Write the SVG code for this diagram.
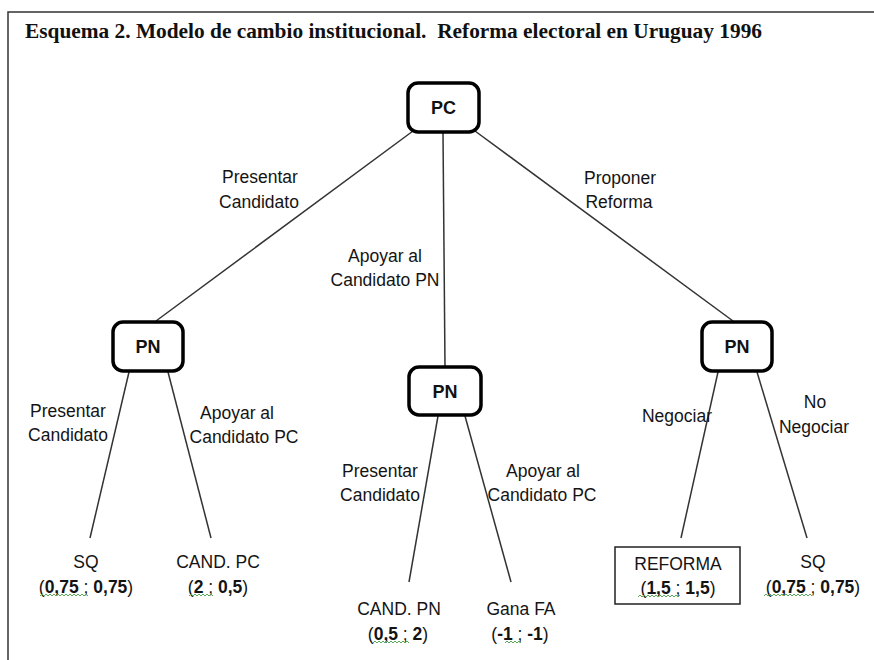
<svg xmlns="http://www.w3.org/2000/svg" width="874" height="660" viewBox="0 0 874 660">
<style>
.t{font-family:"Liberation Sans",Arial,sans-serif;font-size:17.5px;fill:#141414;text-anchor:middle}
.b{font-weight:bold}
.nb{fill:#fff;stroke:#000;stroke-width:3.5}
.nt{font-family:"Liberation Sans",Arial,sans-serif;font-size:18px;font-weight:bold;fill:#111;text-anchor:middle}
.e{stroke:#333;stroke-width:1.5;fill:none}
.sq{stroke:#5aa85a;stroke-width:1;fill:none}
.title{font-family:"Liberation Serif","Times New Roman",serif;font-size:21px;font-weight:bold;fill:#111;white-space:pre}
</style>
<rect width="874" height="660" fill="#fff"/>
<path d="M8 662 V12 H874" fill="none" stroke="#333" stroke-width="1.5"/>
<text class="title" x="25" y="38" textLength="737" lengthAdjust="spacingAndGlyphs" xml:space="preserve">Esquema 2. Modelo de cambio institucional.  Reforma electoral en Uruguay 1996</text>

<g id="connectors">
<line class="e" x1="413" y1="131" x2="156" y2="321"/>
<line class="e" x1="443" y1="133" x2="445" y2="366"/>
<line class="e" x1="475" y1="131" x2="733" y2="321"/>
<line class="e" x1="129" y1="372" x2="90" y2="538"/>
<line class="e" x1="168" y1="372" x2="211" y2="538"/>
<line class="e" x1="438" y1="416" x2="409" y2="582"/>
<line class="e" x1="465" y1="416" x2="511" y2="582"/>
<line class="e" x1="718" y1="372" x2="681" y2="538"/>
<line class="e" x1="757" y1="372" x2="807" y2="538"/>
</g>

<g id="edge-labels">
<text class="t" x="260" y="183">Presentar</text>
<text class="t" x="259" y="208">Candidato</text>
<text class="t" x="385" y="262">Apoyar al</text>
<text class="t" x="385" y="286">Candidato PN</text>
<text class="t" x="620" y="184">Proponer</text>
<text class="t" x="619" y="208">Reforma</text>
<text class="t" x="68" y="417">Presentar</text>
<text class="t" x="68" y="441">Candidato</text>
<text class="t" x="237" y="419">Apoyar al</text>
<text class="t" x="244" y="443">Candidato PC</text>
<text class="t" x="380" y="477">Presentar</text>
<text class="t" x="380" y="501">Candidato</text>
<text class="t" x="543" y="477">Apoyar al</text>
<text class="t" x="542" y="501">Candidato PC</text>
<text class="t" x="677" y="422">Negociar</text>
<text class="t" x="815" y="408">No</text>
<text class="t" x="814" y="433">Negociar</text>
</g>

<g id="PC">
<rect class="nb" x="408" y="83" width="71" height="49" rx="10"/>
<text class="nt" x="443.5" y="114">PC</text>
</g>
<g id="PN-left">
<rect class="nb" x="113" y="322" width="70" height="49" rx="10"/>
<text class="nt" x="148" y="353">PN</text>
</g>
<g id="PN-middle">
<rect class="nb" x="409" y="367" width="72" height="48" rx="10"/>
<text class="nt" x="445" y="398">PN</text>
</g>
<g id="PN-right">
<rect class="nb" x="702" y="322" width="70" height="49" rx="10"/>
<text class="nt" x="737" y="353">PN</text>
</g>

<g id="outcome-sq-left">
<text class="t" x="86" y="568">SQ</text>
<text class="t" x="86" y="593">(<tspan class="b">0,75</tspan> ; <tspan class="b">0,75</tspan>)</text>
<path class="sq" d="M40 596 l2 -2 l2 2 l2 -2 l2 2 l2 -2 l2 2 l2 -2 l2 2 l2 -2 l2 2 l2 -2 l2 2 l2 -2 l2 2 l2 -2 l2 2 l2 -2 l2 2 l2 -2 l2 2 l2 -2 l2 2 l2 -2 l2 2"/>
</g>
<g id="outcome-candpc">
<text class="t" x="218" y="568">CAND. PC</text>
<text class="t" x="218" y="593">(<tspan class="b">2</tspan> ; <tspan class="b">0,5</tspan>)</text>
<path class="sq" d="M189 596 l2 -2 l2 2 l2 -2 l2 2 l2 -2 l2 2 l2 -2 l2 2 l2 -2 l2 2 l2 -2 l2 2"/>
</g>
<g id="outcome-candpn">
<text class="t" x="399" y="615">CAND. PN</text>
<text class="t" x="398" y="640">(<tspan class="b">0,5</tspan> ; <tspan class="b">2</tspan>)</text>
<path class="sq" d="M373 643 l2 -2 l2 2 l2 -2 l2 2 l2 -2 l2 2 l2 -2 l2 2 l2 -2 l2 2 l2 -2 l2 2 l2 -2 l2 2 l2 -2 l2 2 l2 -2 l2 2"/>
</g>
<g id="outcome-ganafa">
<text class="t" x="521" y="615">Gana FA</text>
<text class="t" x="520" y="640">(<tspan class="b">-1</tspan> ; <tspan class="b">-1</tspan>)</text>
<path class="sq" d="M505 643 l2 -2 l2 2 l2 -2 l2 2 l2 -2 l2 2 l2 -2 l2 2"/>
</g>
<g id="outcome-reforma">
<rect x="615" y="547" width="125" height="57" fill="none" stroke="#222" stroke-width="1.5"/>
<text class="t" x="678" y="570">REFORMA</text>
<text class="t" x="678" y="594">(<tspan class="b">1,5</tspan> ; <tspan class="b">1,5</tspan>)</text>
<path class="sq" d="M638 597 l2 -2 l2 2 l2 -2 l2 2 l2 -2 l2 2 l2 -2 l2 2 l2 -2 l2 2 l2 -2 l2 2 l2 -2 l2 2 l2 -2 l2 2 l2 -2 l2 2 l2 -2 l2 2 l2 -2"/>
</g>
<g id="outcome-sq-right">
<text class="t" x="813" y="568">SQ</text>
<text class="t" x="813" y="593">(<tspan class="b">0,75</tspan> ; <tspan class="b">0,75</tspan>)</text>
<path class="sq" d="M764 596 l2 -2 l2 2 l2 -2 l2 2 l2 -2 l2 2 l2 -2 l2 2 l2 -2 l2 2 l2 -2 l2 2 l2 -2 l2 2 l2 -2 l2 2 l2 -2 l2 2 l2 -2 l2 2 l2 -2 l2 2 l2 -2 l2 2"/>
</g>
</svg>
